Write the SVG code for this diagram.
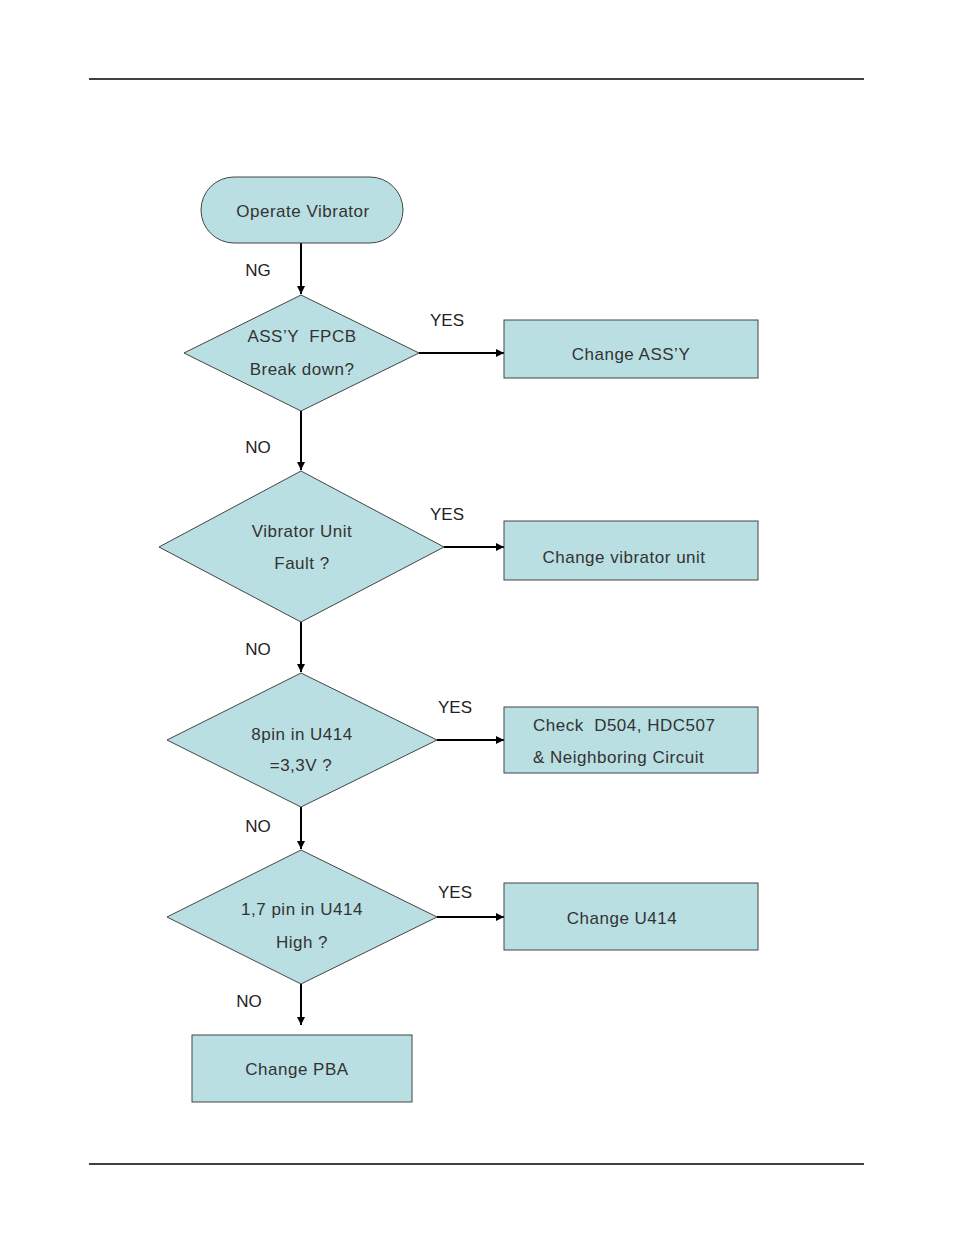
<svg xmlns="http://www.w3.org/2000/svg" width="954" height="1235" viewBox="0 0 954 1235">
<defs>
<marker id="ah" viewBox="0 0 10 10" refX="10" refY="5" markerWidth="8" markerHeight="8" markerUnits="userSpaceOnUse" orient="auto">
<path d="M0,0 L10,5 L0,10 z" fill="#000"/>
</marker>
</defs>
<style>
.n{fill:#b9dfe2;stroke:#444;stroke-width:1}
.t{font-family:"Liberation Sans",Arial,sans-serif;font-size:17px;fill:#333;letter-spacing:0.5px;white-space:pre}
.c{text-anchor:middle}
.l{font-family:"Liberation Sans",Arial,sans-serif;font-size:17px;fill:#222;text-anchor:middle}
.e{stroke:#000;stroke-width:2;fill:none;marker-end:url(#ah)}
.rule{stroke:#000;stroke-width:1.3}
</style>
<rect width="954" height="1235" fill="#fff"/>
<line class="rule" x1="89" y1="79" x2="864" y2="79"/>
<line class="rule" x1="89" y1="1164" x2="864" y2="1164"/>

<g id="connectors">
<line class="e" x1="301" y1="243" x2="301" y2="294"/>
<line class="e" x1="419" y1="353" x2="504" y2="353"/>
<line class="e" x1="301" y1="411" x2="301" y2="470"/>
<line class="e" x1="444" y1="547" x2="504" y2="547"/>
<line class="e" x1="301" y1="622" x2="301" y2="672"/>
<line class="e" x1="437" y1="740" x2="504" y2="740"/>
<line class="e" x1="301" y1="807" x2="301" y2="849"/>
<line class="e" x1="437" y1="917" x2="504" y2="917"/>
<line class="e" x1="301" y1="984" x2="301" y2="1025"/>
<text class="l" x="258" y="276">NG</text>
<text class="l" x="447" y="326">YES</text>
<text class="l" x="258" y="453">NO</text>
<text class="l" x="447" y="520">YES</text>
<text class="l" x="258" y="655">NO</text>
<text class="l" x="455" y="713">YES</text>
<text class="l" x="258" y="832">NO</text>
<text class="l" x="455" y="898">YES</text>
<text class="l" x="249" y="1007">NO</text>
</g>

<g id="start">
<rect class="n" x="201" y="177" width="202" height="66" rx="33" ry="33"/>
<text class="t c" x="303" y="217">Operate Vibrator</text>
</g>

<g id="d1">
<polygon class="n" points="301,295 419,353 301,411 184,353"/>
<text class="t c" x="302" y="342" xml:space="preserve">ASS’Y  FPCB</text>
<text class="t c" x="302" y="375">Break down?</text>
</g>

<g id="b1">
<rect class="n" x="504" y="320" width="254" height="58"/>
<text class="t c" x="631" y="360">Change ASS’Y</text>
</g>

<g id="d2">
<polygon class="n" points="301,471 444,547 301,622 159,547"/>
<text class="t c" x="302" y="537">Vibrator Unit</text>
<text class="t c" x="302" y="569">Fault ?</text>
</g>

<g id="b2">
<rect class="n" x="504" y="521" width="254" height="59"/>
<text class="t c" x="624" y="563">Change vibrator unit</text>
</g>

<g id="d3">
<polygon class="n" points="301,673 437,740 301,807 167,740"/>
<text class="t c" x="302" y="740">8pin in U414</text>
<text class="t c" x="301" y="771">=3,3V ?</text>
</g>

<g id="b3">
<rect class="n" x="504" y="707" width="254" height="66"/>
<text class="t" x="533" y="731" xml:space="preserve">Check  D504, HDC507</text>
<text class="t" x="533" y="763">&amp; Neighboring Circuit</text>
</g>

<g id="d4">
<polygon class="n" points="301,850 437,917 301,984 167,917"/>
<text class="t c" x="302" y="915">1,7 pin in U414</text>
<text class="t c" x="302" y="948">High ?</text>
</g>

<g id="b4">
<rect class="n" x="504" y="883" width="254" height="67"/>
<text class="t c" x="622" y="924">Change U414</text>
</g>

<g id="b5">
<rect class="n" x="192" y="1035" width="220" height="67"/>
<text class="t c" x="297" y="1075">Change PBA</text>
</g>
</svg>
